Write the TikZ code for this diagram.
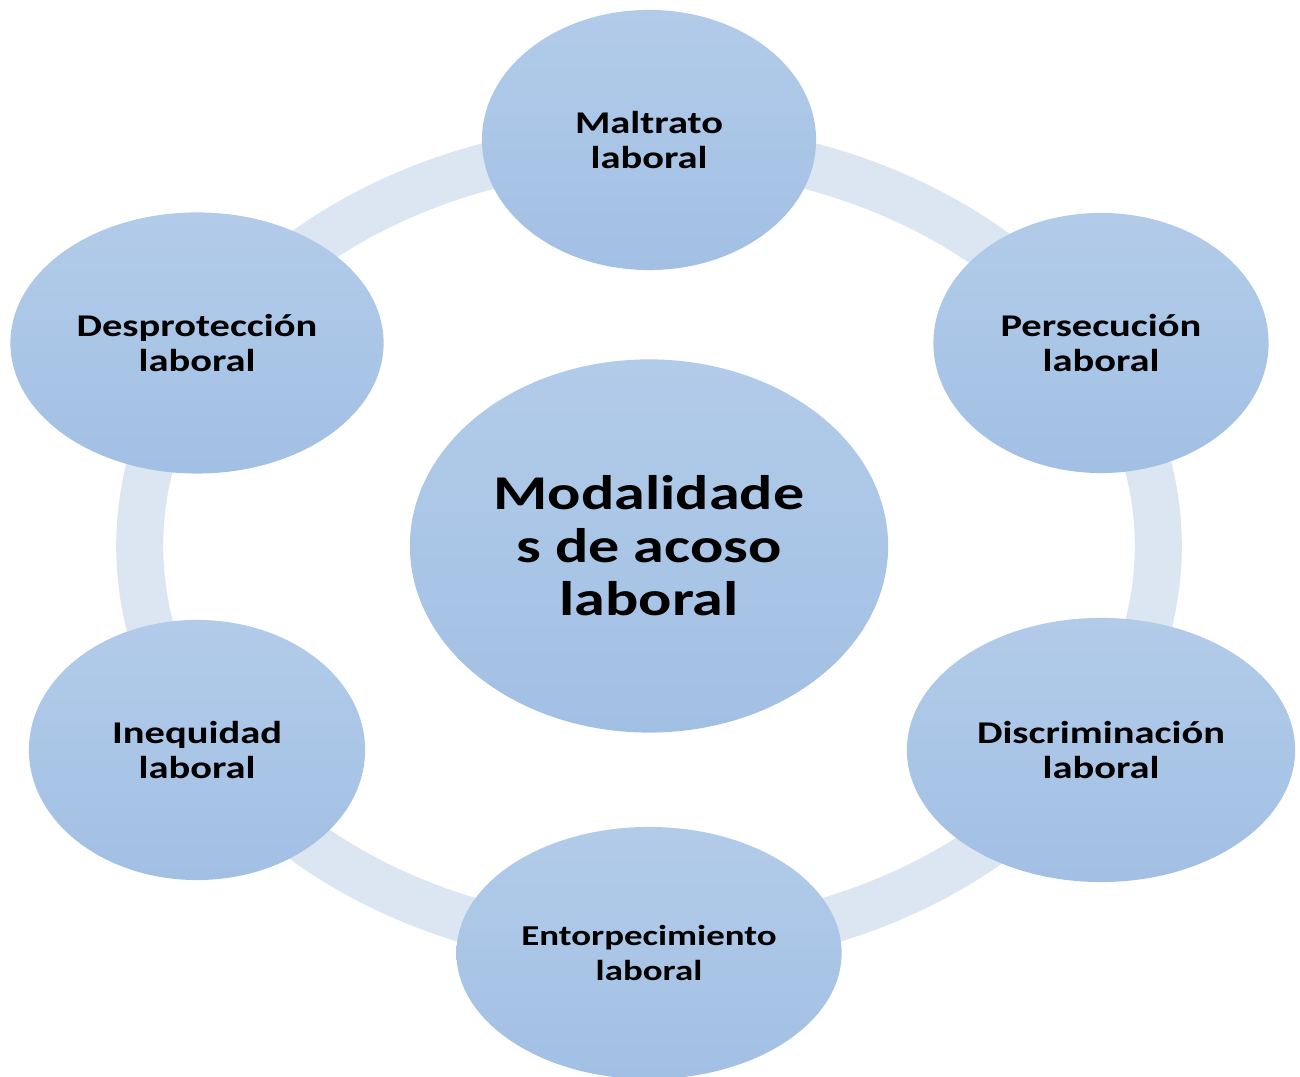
\documentclass[tikz,border=0pt]{standalone}
\usepackage{fontspec}
\setmainfont{Carlito}[FakeStretch=1.28]
\usepackage{tikz}
\usetikzlibrary{shapes.geometric,
           positioning}
\pgfdeclarelayer{background}
\pgfsetlayers{background,main}
\definecolor{azulsup}{RGB}{178,203,233}
\definecolor{azulinf}{RGB}{162,192,228}
\definecolor{aro}{RGB}{220,230,243}

\begin{document}
\begin{tikzpicture}[x=0.01cm,y=-0.01cm,
  modo/.style={ellipse,inner sep=0pt,top color=azulsup,bottom color=azulinf,
    draw=none,align=center,font=\bfseries\fontsize{9}{10}\selectfont},
  nucleo/.style={modo,font=\bfseries\fontsize{13.8}{15.1}\selectfont},
  anillo/.style={draw=aro,line width=0.47cm}]
\useasboundingbox (0,0) rectangle (1300,1077);
% centro
\node[nucleo,minimum width=4.78cm,minimum height=3.73cm] (centro) at (649,546) {Modalidade\\s de acoso\\laboral};
% modalidades alrededor
\node[modo,minimum width=3.34cm,minimum height=2.6cm] (maltrato) at (649,140) {Maltrato\\laboral};
\node[modo,minimum width=3.35cm,minimum height=2.6cm] (persecucion) at (1101,343) {Persecución\\laboral};
\node[modo,minimum width=3.88cm,minimum height=2.64cm] (discriminacion) at (1101,750) {Discriminación\\laboral};
\node[modo,minimum width=3.85cm,minimum height=2.52cm,font=\bfseries\fontsize{8.2}{9.8}\selectfont] (entorpecimiento) at (649,953) {Entorpecimiento\\laboral};
\node[modo,minimum width=3.36cm,minimum height=2.6cm] (inequidad) at (197,750) {Inequidad\\laboral};
\node[modo,minimum width=3.73cm,minimum height=2.61cm] (desproteccion) at (197,343) {Desprotección\\laboral};
\begin{pgfonlayer}{background}
\draw[anillo] (centro.center) ellipse [x radius=5.09cm,y radius=4cm];
\end{pgfonlayer}
\end{tikzpicture}
\end{document}
